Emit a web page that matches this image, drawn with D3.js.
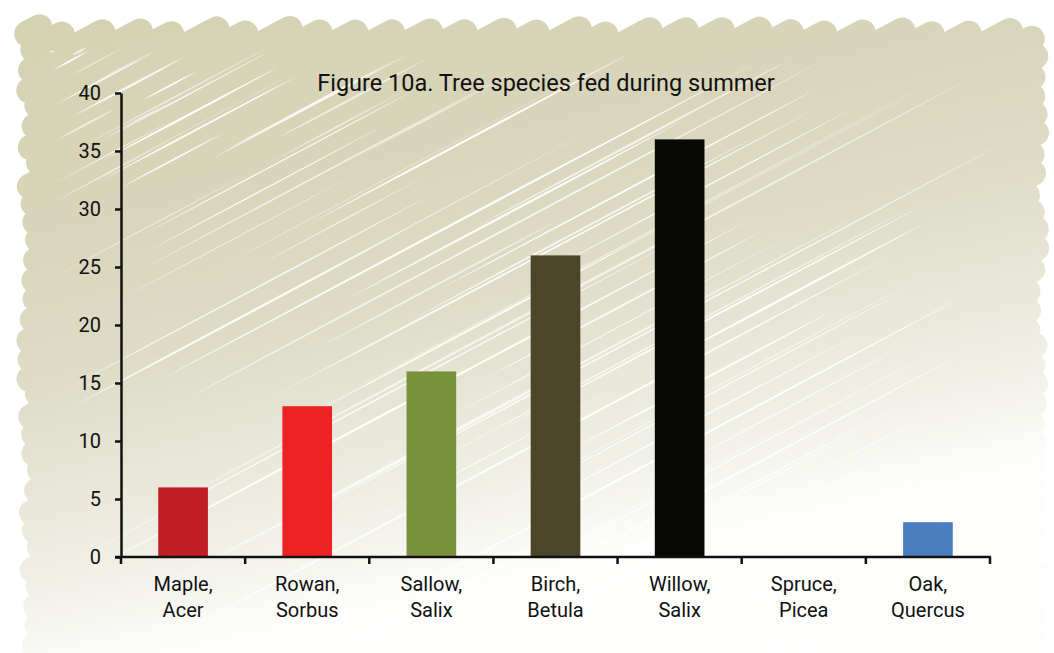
<!DOCTYPE html>
<html>
<head>
<meta charset="utf-8">
<script src="https://cdn.jsdelivr.net/npm/d3@7/dist/d3.min.js"></script>
<style>
  html, body { margin: 0; padding: 0; background: #ffffff; }
  svg { display: block; }
  text { font-family: Roboto, "Open Sans", sans-serif; fill: #111111; }
</style>
</head>
<body>
<svg id="chart" width="1054" height="653"></svg>
<script>
// Tree species fed during summer: counts per species
const categories = ["Maple, Acer", "Rowan, Sorbus", "Sallow, Salix", "Birch, Betula",
                    "Willow, Salix", "Spruce, Picea", "Oak, Quercus"];
const counts = [6, 13, 16, 26, 36, 0, 3];
const barColors = ["#C01E25", "#EE2224", "#77923A", "#4B4529", "#070704", "#C8C8C8", "#4A7EBF"];
const yTicks = [0, 5, 10, 15, 20, 25, 30, 35, 40];
const title = "Figure 10a. Tree species fed during summer";

const W = 1054, H = 653;
const svg = d3.select("#chart");

// ---------- hand-drawn scribble backdrop ----------
const defs = svg.append("defs");
const grad = defs.append("linearGradient")
  .attr("id", "scribbleFill")
  .attr("gradientUnits", "userSpaceOnUse")
  .attr("x1", 0).attr("y1", 20).attr("x2", 140).attr("y2", 655);
[[0, "#D5D2B3"], [0.3, "#D7D4B9"], [0.55, "#DEDCC6"], [0.75, "#E9E8DA"],
 [0.9, "#F4F3EC"], [1, "#FDFDFB"]].forEach(([o, c]) =>
  grad.append("stop").attr("offset", o).attr("stop-color", c));

// deterministic jitter for the pen strokes
const hash = i => { const s = Math.sin(i * 91.3458 + 12.9898) * 43758.5453; return s - Math.floor(s); };

const theta = 28 * Math.PI / 180;
const dir = [Math.cos(theta), -Math.sin(theta)];
const nrm = [Math.sin(theta), Math.cos(theta)];
const box = { L: 16, R: 1050, T: 16, B: 720 };
const penW = 26, r = penW / 2;

function clipRange(c, inset) {
  // line: p = c*nrm + t*dir ; find t-range inside inset box
  const px = c * nrm[0], py = c * nrm[1];
  let t0 = -1e9, t1 = 1e9;
  const L = box.L + inset, R = box.R - inset, T = box.T + inset, B = box.B;
  let a = (L - px) / dir[0], b = (R - px) / dir[0];
  t0 = Math.max(t0, Math.min(a, b)); t1 = Math.min(t1, Math.max(a, b));
  a = (T - py) / dir[1]; b = (B - py) / dir[1];
  t0 = Math.max(t0, Math.min(a, b)); t1 = Math.min(t1, Math.max(a, b));
  return t1 > t0 ? [t0, t1] : null;
}
const pt = (c, t) => [c * nrm[0] + t * dir[0], c * nrm[1] + t * dir[1]];

const cMin = box.L * nrm[0] + box.T * nrm[1];
const cMax = box.R * nrm[0] + box.B * nrm[1];
const step = 17;
const strokes = [];
for (let c = cMin + 4, i = 0; c < cMax; c += step, i++) {
  const rg = clipRange(c, r);
  if (!rg) continue;
  const j0 = hash(i) * 14, j1 = hash(i + 500) * 12;
  strokes.push({ c, t0: rg[0] + j0, t1: rg[1] - j1, i });
}

const scribble = svg.append("g").attr("class", "scribble");
scribble.selectAll("line.pen").data(strokes).join("line")
  .attr("class", "pen")
  .attr("x1", d => pt(d.c, d.t0)[0]).attr("y1", d => pt(d.c, d.t0)[1])
  .attr("x2", d => pt(d.c, d.t1)[0]).attr("y2", d => pt(d.c, d.t1)[1])
  .attr("stroke", "url(#scribbleFill)")
  .attr("stroke-width", penW)
  .attr("stroke-linecap", "round");

// thin white gaps left between pen strokes
const gaps = [];
strokes.forEach((s, k) => {
  const rg = clipRange(s.c + step / 2, 30);
  if (!rg) return;
  const len = rg[1] - rg[0];
  const n = 1 + Math.floor(hash(k + 900) * 2.4);
  for (let q = 0; q < n; q++) {
    const h1 = hash(k * 7 + q * 31 + 11), h2 = hash(k * 13 + q * 17 + 3), h3 = hash(k * 5 + q * 29 + 77);
    const segLen = len * (0.25 + 0.6 * h1);
    const start = rg[0] + (len - segLen) * h2;
    gaps.push({ c: s.c + step / 2 + (h3 - 0.5) * 6, t0: start, t1: start + segLen,
                w: 0.6 + 1.9 * hash(k * 3 + q + 55), o: 0.6 + 0.4 * h3 });
  }
});
scribble.selectAll("path.gap").data(gaps).join("path")
  .attr("class", "gap")
  .attr("d", g => {
    const a = pt(g.c, g.t0), b = pt(g.c, g.t1);
    const m = pt(g.c, (g.t0 + g.t1) / 2);
    const up = [m[0] + nrm[0] * g.w, m[1] + nrm[1] * g.w];
    const dn = [m[0] - nrm[0] * g.w, m[1] - nrm[1] * g.w];
    return `M${a[0]},${a[1]} Q${up[0]},${up[1]} ${b[0]},${b[1]} Q${dn[0]},${dn[1]} ${a[0]},${a[1]}Z`;
  })
  .attr("fill", "#ffffff")
  .attr("fill-opacity", g => g.o);

// ---------- chart ----------
const plot = { left: 121, right: 990, top: 93, bottom: 557 };

const x = d3.scaleBand().domain(categories).range([plot.left, plot.right]).padding(0);
const y = d3.scaleLinear().domain([0, 40]).range([plot.bottom, plot.top]);
const barW = x.bandwidth() * 0.4;

const chart = svg.append("g");

chart.selectAll("rect.bar").data(categories.map((c, i) => ({ c, v: counts[i], col: barColors[i] })))
  .join("rect")
  .attr("class", "bar")
  .attr("x", d => x(d.c) + (x.bandwidth() - barW) / 2)
  .attr("y", d => y(d.v))
  .attr("width", barW)
  .attr("height", d => y(0) - y(d.v))
  .attr("fill", d => d.col);

// y axis
const yAxis = chart.append("g")
  .attr("transform", `translate(${plot.left},0)`)
  .call(d3.axisLeft(y).tickValues(yTicks).tickSize(6).tickPadding(14).tickSizeOuter(0));
yAxis.select(".domain").attr("stroke", "#111").attr("stroke-width", 2.5);
yAxis.selectAll(".tick line").attr("stroke", "#111").attr("stroke-width", 2.5);
yAxis.selectAll(".tick text").attr("font-size", 20).attr("font-family", "Roboto, sans-serif")
  .attr("fill", "#111");

// x axis: ticks on band boundaries, two-line labels centred in bands
const xg = chart.append("g").attr("transform", `translate(0,${plot.bottom})`);
xg.append("line")
  .attr("x1", plot.left - 6).attr("x2", plot.right + 1)
  .attr("stroke", "#111").attr("stroke-width", 2.5);
const bounds = categories.map(c => x(c)).concat([x(categories[categories.length - 1]) + x.bandwidth()]);
xg.selectAll("line.tk").data(bounds).join("line")
  .attr("class", "tk")
  .attr("x1", d => d).attr("x2", d => d)
  .attr("y1", 0).attr("y2", 7)
  .attr("stroke", "#111").attr("stroke-width", 2.5);
const lbl = xg.selectAll("text.cat").data(categories).join("text")
  .attr("class", "cat")
  .attr("text-anchor", "middle")
  .attr("font-size", 20)
  .attr("transform", d => `translate(${x(d) + x.bandwidth() / 2},0)`);
lbl.each(function (d) {
  const parts = d.split(", ");
  const t = d3.select(this);
  t.append("tspan").attr("x", 0).attr("y", 34).text(parts[0] + ",");
  t.append("tspan").attr("x", 0).attr("y", 60).text(parts[1]);
});

// title
svg.append("text")
  .attr("x", 546).attr("y", 91)
  .attr("text-anchor", "middle")
  .attr("font-size", 23.5)
  .text(title);
</script>
</body>
</html>
